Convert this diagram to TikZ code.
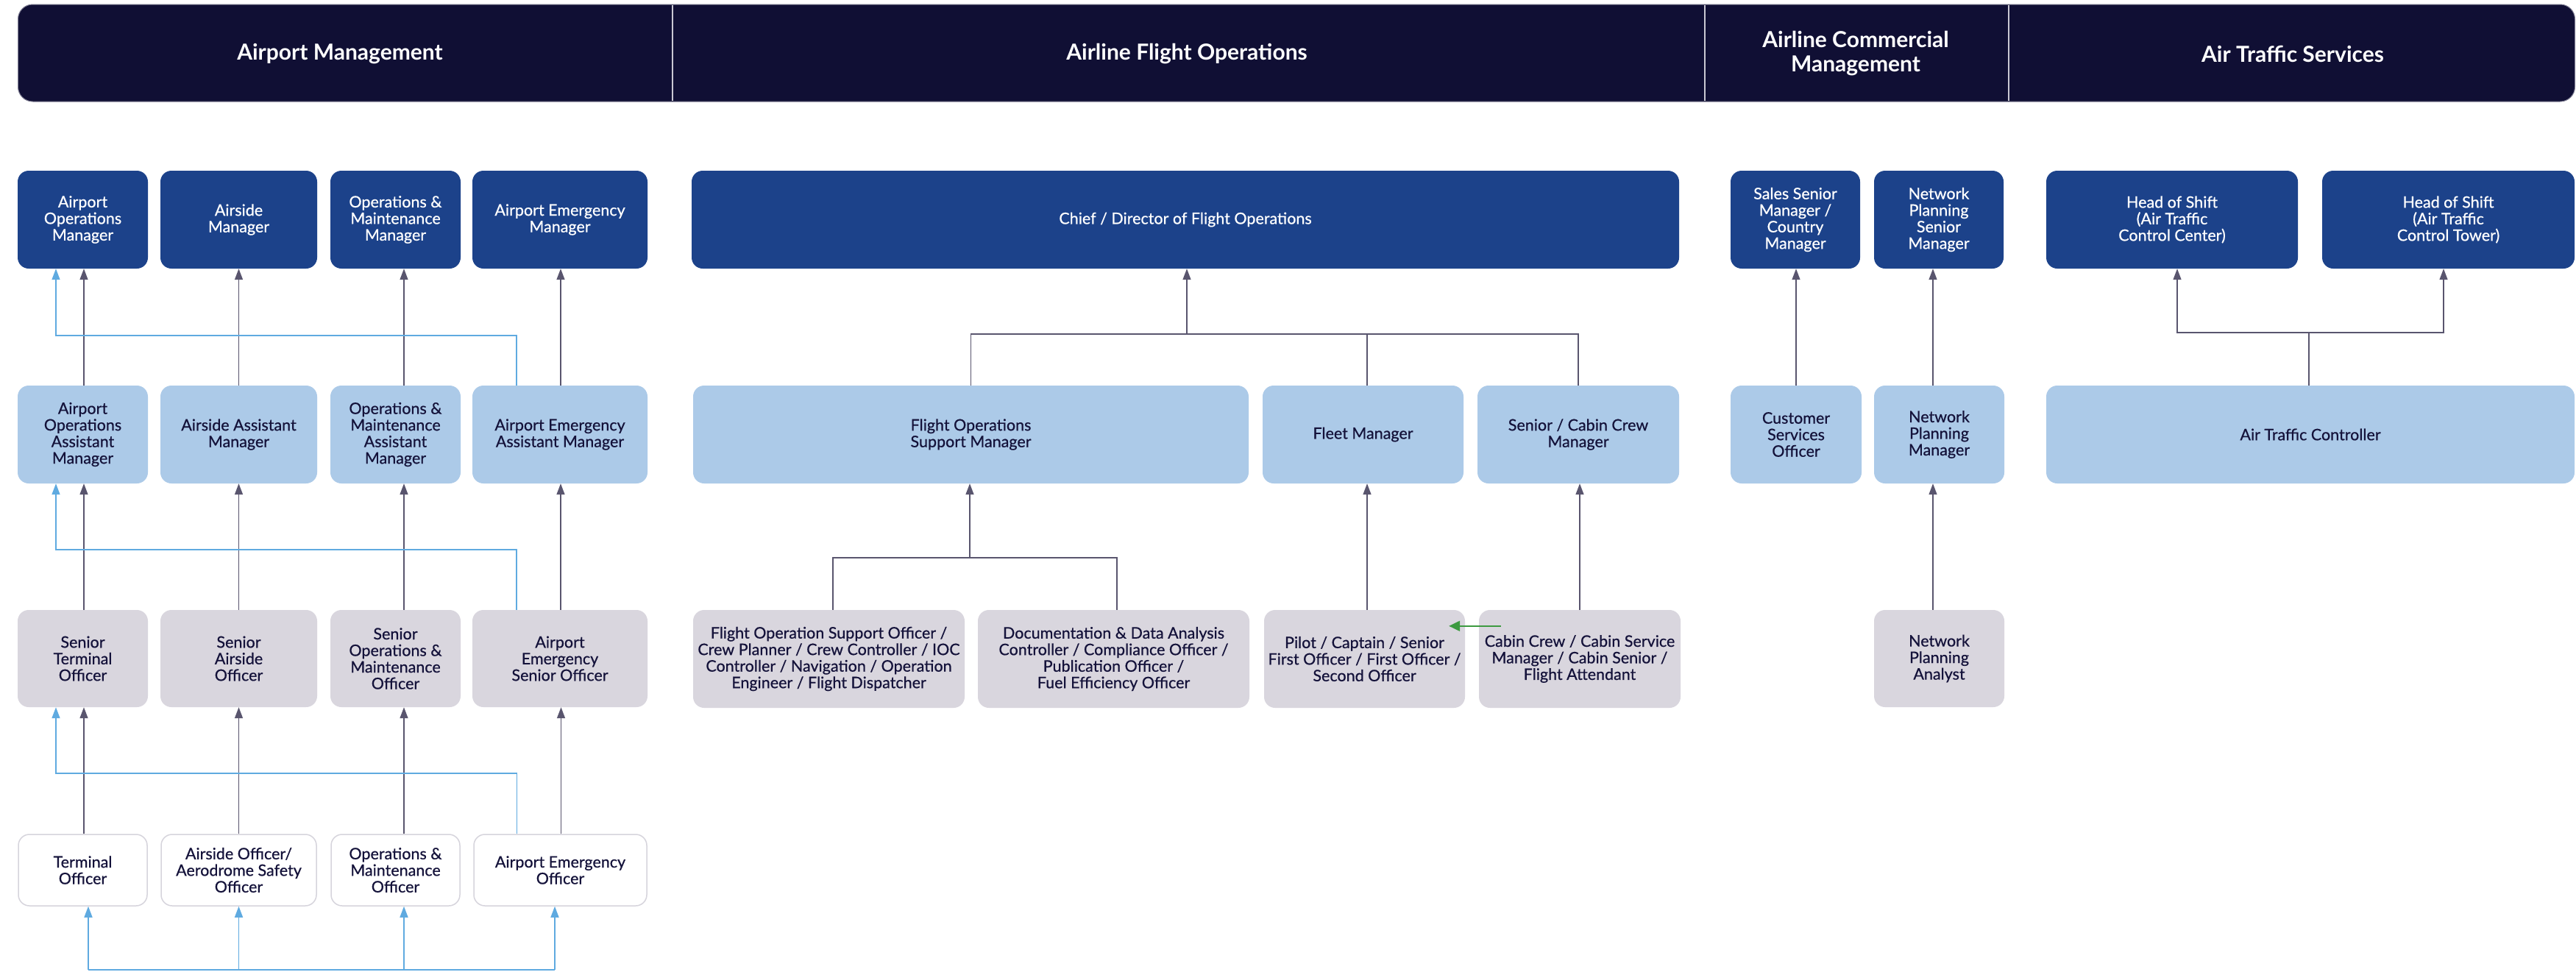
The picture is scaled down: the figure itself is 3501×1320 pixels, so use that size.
\documentclass[tikz,border=0pt]{standalone}
\usepackage{fontspec}
\setmainfont{Lato}
\newfontfamily\boxfont{Lato}[FakeBold=0.6]
\usetikzlibrary{arrows.meta,calc}
\definecolor{hdr}{HTML}{100F34}
\definecolor{hdrline}{HTML}{C9C8D2}
\definecolor{dkblue}{HTML}{1C428A}
\definecolor{ltblue}{HTML}{ACCAE8}
\definecolor{grbox}{HTML}{D9D6DE}
\definecolor{wbord}{HTML}{D6D4DC}
\definecolor{txt}{HTML}{14123A}
\definecolor{conn}{HTML}{59556E}
\definecolor{bconn}{HTML}{5FAAE0}
\definecolor{grn}{HTML}{3C9A40}
\newcommand\mybox[7]{%
  \pgfmathsetmacro\myboxw{#4-#3}\pgfmathsetmacro\myboxh{#6-#5}%
  \node[#1, minimum width=\myboxw pt, minimum height=\myboxh pt] (#2) at ({(#3+#4)/2},{(#5+#6)/2}) {#7};}
\tikzset{
  base/.style={rounded corners=15pt, align=center, inner sep=0pt, font=\boxfont\fontsize{21.5}{22.5}\selectfont},
  lvlA/.style={base, fill=dkblue, text=white},
  lvlB/.style={base, fill=ltblue, text=txt},
  lvlC/.style={base, fill=grbox, text=txt},
  lvlD/.style={base, fill=white, draw=wbord, line width=1.5pt, text=txt},
  ln/.style={draw=conn, line width=1.5pt},
  arr/.style={ln, -{Triangle[length=15pt,width=11pt]}},
  bln/.style={draw=bconn, line width=1.5pt},
  barr/.style={bln, -{Triangle[length=15pt,width=11pt]}},
  garr/.style={draw=grn, line width=2pt, -{Triangle[length=15pt,width=14pt]}},
  title/.style={text=white, font=\fontsize{30}{33}\selectfont\bfseries, align=center},
  divider/.style={draw=hdrline, line width=2pt}
}
\begin{document}
\begin{tikzpicture}[x=1pt,y=-1pt]
\useasboundingbox[fill=white] (0,0) rectangle (3501,1320);
% header
\node[fill=hdr, draw=hdrline!60!hdr, line width=1pt, rounded corners=20pt, minimum width=3475pt, minimum height=132pt, inner sep=0pt] (hdr) at (1762,72) {};
\draw[divider] (914,7) -- (914,137);
\draw[divider] (2317,7) -- (2317,137);
\draw[divider] (2730,7) -- (2730,137);
\node[title] (t1) at (462,73) {Airport Management};
\node[title] (t2) at (1613,73) {Airline Flight Operations};
\node[title] (t3) at (2522,73) {Airline Commercial\\Management};
\node[title] (t4) at (3116,73) {Air Traffic Services};

% ---------- Airport Management ----------
\mybox{lvlA}{r1c1}{24}{201}{232}{365}{Airport\\Operations\\Manager}
\mybox{lvlA}{r1c2}{218}{431}{232}{365}{Airside\\Manager}
\mybox{lvlA}{r1c3}{449}{626}{232}{365}{Operations \&\\Maintenance\\Manager}
\mybox{lvlA}{r1c4}{642}{880}{232}{365}{Airport Emergency\\Manager}

\mybox{lvlB}{r2c1}{24}{201}{524}{657}{Airport\\Operations\\Assistant\\Manager}
\mybox{lvlB}{r2c2}{218}{431}{524}{657}{Airside Assistant\\Manager}
\mybox{lvlB}{r2c3}{449}{626}{524}{657}{Operations \&\\Maintenance\\Assistant\\Manager}
\mybox{lvlB}{r2c4}{642}{880}{524}{657}{Airport Emergency\\Assistant Manager}

\mybox{lvlC}{r3c1}{24}{201}{829}{961}{Senior\\Terminal\\Officer}
\mybox{lvlC}{r3c2}{218}{431}{829}{961}{Senior\\Airside\\Officer}
\mybox{lvlC}{r3c3}{449}{626}{829}{961}{Senior\\Operations \&\\Maintenance\\Officer}
\mybox{lvlC}{r3c4}{642}{880}{829}{961}{Airport\\Emergency\\Senior Officer}

\mybox{lvlD}{r4c1}{25}{200}{1134}{1231}{Terminal\\Officer}
\mybox{lvlD}{r4c2}{219}{430}{1134}{1231}{Airside Officer/\\Aerodrome Safety\\Officer}
\mybox{lvlD}{r4c3}{450}{625}{1134}{1231}{Operations \&\\Maintenance\\Officer}
\mybox{lvlD}{r4c4}{644}{879}{1134}{1231}{Airport Emergency\\Officer}

% dark vertical arrows
\foreach \c/\s in {1/1.5pt,2/0pt,3/11.5pt,4/1pt}{
  \draw[arr] ([xshift=\s]r2c\c.north) -- ([xshift=\s]r2c\c.north |- r1c\c.south);
  \draw[arr] ([xshift=\s]r3c\c.north) -- ([xshift=\s]r3c\c.north |- r2c\c.south);
  \draw[arr] ([xshift=\s]r4c\c.north) -- ([xshift=\s]r4c\c.north |- r3c\c.south);
}
% blue elbow connectors
\draw[barr] ([xshift=-59pt]r2c4.north) |- ([xshift=-36.5pt,yshift=-91pt]r1c1.south) -- ([xshift=-36.5pt]r1c1.south);
\draw[barr] ([xshift=-59pt]r3c4.north) |- ([xshift=-36.5pt,yshift=-90pt]r2c1.south) -- ([xshift=-36.5pt]r2c1.south);
\draw[barr] ([xshift=-59pt]r4c4.north) |- ([xshift=-36.5pt,yshift=-90pt]r3c1.south) -- ([xshift=-36.5pt]r3c1.south);
% bottom blue line
\coordinate (bl1) at ([xshift=7.5pt,yshift=-86pt]r4c1.south);
\coordinate (bl4) at ([xshift=-7.5pt,yshift=-86pt]r4c4.south);
\draw[bln] (bl1) -- (bl4);
\draw[barr] (bl1) -- ([xshift=7.5pt]r4c1.south);
\draw[barr] ([yshift=-86pt]r4c2.south) -- (r4c2.south);
\draw[barr] ([xshift=11.5pt,yshift=-86pt]r4c3.south) -- ([xshift=11.5pt]r4c3.south);
\draw[barr] (bl4) -- ([xshift=-7.5pt]r4c4.south);

% ---------- Airline Flight Operations ----------
\mybox{lvlA}{chief}{940}{2282}{232}{365}{Chief / Director of Flight Operations}
\mybox{lvlB}{fosm}{942}{1697}{524}{657}{Flight Operations\\Support Manager}
\mybox{lvlB}{fleet}{1716}{1989}{524}{657}{Fleet Manager}
\mybox{lvlB}{sccm}{2008}{2282}{524}{657}{Senior / Cabin Crew\\Manager}
\mybox{lvlC}{foso}{942}{1311}{829}{962}{Flight Operation Support Officer /\\Crew Planner / Crew Controller / IOC\\Controller / Navigation / Operation\\Engineer / Flight Dispatcher}
\mybox{lvlC}{doc}{1329}{1698}{829}{962}{Documentation \& Data Analysis\\Controller / Compliance Officer /\\Publication Officer /\\Fuel Efficiency Officer}
\mybox{lvlC}{pilot}{1718}{1991}{829}{962}{Pilot / Captain / Senior\\First Officer / First Officer /\\Second Officer}
\mybox{lvlC}{cabin}{2010}{2284}{829}{962}{Cabin Crew / Cabin Service\\Manager / Cabin Senior /\\Flight Attendant}

\coordinate (foj) at (1613,454);
\draw[ln] (fosm.north) |- (sccm.north |- foj) -- (sccm.north);
\draw[ln] ([xshift=5.5pt]fleet.north) -- ([xshift=5.5pt]fleet.north |- foj);
\draw[arr] (foj) -- (foj |- chief.south);
\coordinate (fsj) at (1318,758);
\draw[ln] ([xshift=5.5pt]foso.north) |- ([xshift=4.5pt]doc.north |- fsj) -- ([xshift=4.5pt]doc.north);
\draw[arr] (fsj) -- (fsj |- fosm.south);
\draw[arr] ([xshift=3.5pt]pilot.north) -- ([xshift=3.5pt]pilot.north |- fleet.south);
\draw[arr] (cabin.north) -- (cabin.north |- sccm.south);
\draw[garr] ([xshift=30pt,yshift=-22pt]cabin.north west) -- ([xshift=-22pt,yshift=-22pt]pilot.north east);

% ---------- Airline Commercial Management ----------
\mybox{lvlA}{sales}{2352}{2528}{232}{365}{Sales Senior\\Manager /\\Country\\Manager}
\mybox{lvlA}{npsm}{2547}{2723}{232}{365}{Network\\Planning\\Senior\\Manager}
\mybox{lvlB}{cso}{2352}{2530}{524}{657}{Customer\\Services\\Officer}
\mybox{lvlB}{npm}{2547}{2724}{524}{657}{Network\\Planning\\Manager}
\mybox{lvlC}{npa}{2547}{2724}{829}{961}{Network\\Planning\\Analyst}
\draw[arr] (cso.north) -- (cso.north |- sales.south);
\draw[arr] ([xshift=-8.5pt]npm.north) -- ([xshift=-8.5pt]npm.north |- npsm.south);
\draw[arr] ([xshift=-8.5pt]npa.north) -- ([xshift=-8.5pt]npa.north |- npm.south);

% ---------- Air Traffic Services ----------
\mybox{lvlA}{hosacc}{2781}{3123}{232}{365}{Head of Shift\\(Air Traffic\\Control Center)}
\mybox{lvlA}{hostw}{3156}{3499}{232}{365}{Head of Shift\\(Air Traffic\\Control Tower)}
\mybox{lvlB}{atc}{2781}{3499}{524}{657}{Air Traffic Controller}
\coordinate (atj) at (3138,452);
\draw[ln] (atj |- atc.north) -- (atj);
\draw[arr] (atj) -| ([xshift=7pt]hosacc.south);
\draw[arr] (atj) -| ([xshift=-6.5pt]hostw.south);
\end{tikzpicture}
\end{document}
